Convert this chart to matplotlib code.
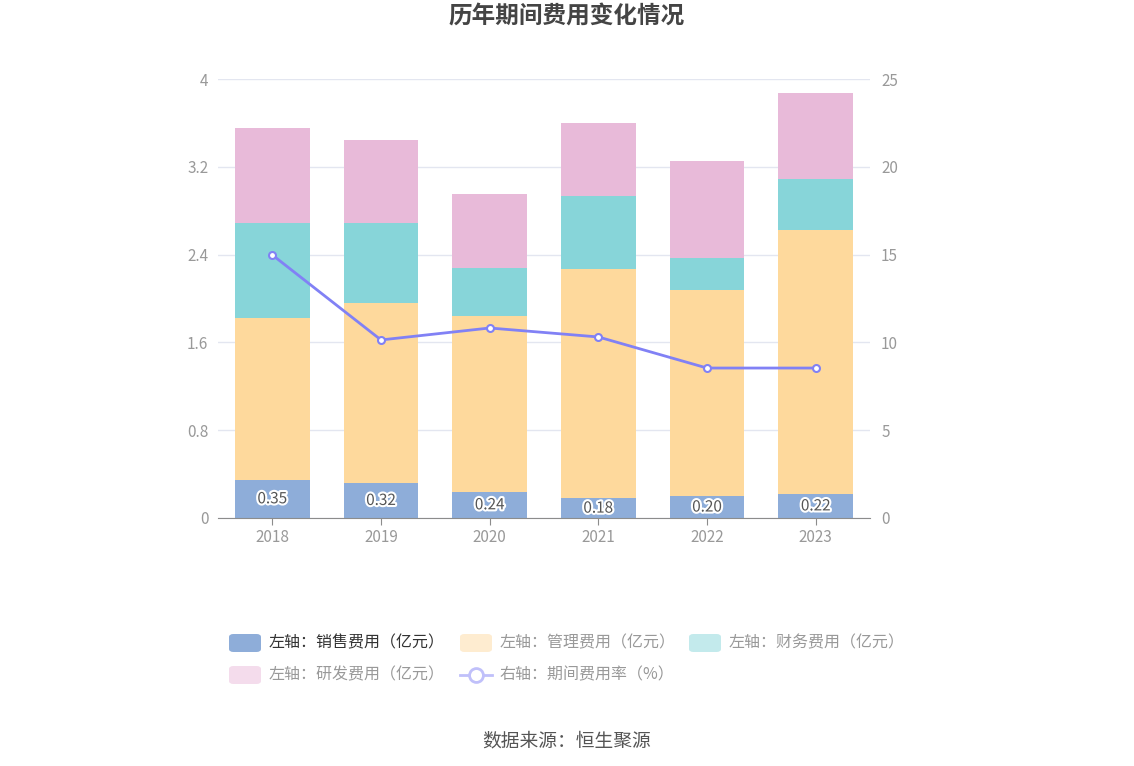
import matplotlib.pyplot as plt
import matplotlib.patheffects as pe
from matplotlib.lines import Line2D
from matplotlib.patches import FancyBboxPatch
import numpy as np

plt.rcParams['font.family'] = ['Noto Sans CJK SC', 'DejaVu Sans']

# 数据
years = ["2018", "2019", "2020", "2021", "2022", "2023"]
xiaoshou = [0.35, 0.32, 0.24, 0.18, 0.20, 0.22]   # 销售费用
guanli = [1.47, 1.64, 1.60, 2.09, 1.88, 2.40]     # 管理费用
caiwu = [0.87, 0.73, 0.44, 0.66, 0.29, 0.47]      # 财务费用
yanfa = [0.86, 0.75, 0.67, 0.67, 0.88, 0.78]      # 研发费用
feilv = [14.98, 10.14, 10.82, 10.31, 8.54, 8.54]  # 期间费用率(%)

c_xs = "#8eadd9"
c_gl = "#fed99c"
c_cw = "#87d5d9"
c_yf = "#e8bad9"
c_line = "#8181f5"

fig = plt.figure(figsize=(11.34, 7.66), dpi=100)
ax = fig.add_axes([218 / 1134, 1 - 518 / 766, 652 / 1134, 439 / 766])
ax2 = ax.twinx()

x = np.arange(len(years))
w = 0.69
b1 = np.array(xiaoshou)
b2 = b1 + np.array(guanli)
b3 = b2 + np.array(caiwu)
ax.bar(x, xiaoshou, w, color=c_xs, zorder=2)
ax.bar(x, guanli, w, bottom=b1, color=c_gl, zorder=2)
ax.bar(x, caiwu, w, bottom=b2, color=c_cw, zorder=2)
ax.bar(x, yanfa, w, bottom=b3, color=c_yf, zorder=2)

for i, v in enumerate(xiaoshou):
    ax.text(x[i], v / 2, f"{v:.2f}", ha="center", va="center", fontsize=11,
            color="#555555", zorder=5,
            path_effects=[pe.withStroke(linewidth=3, foreground="white")])

ax.set_ylim(0, 4)
ax.set_yticks([0, 0.8, 1.6, 2.4, 3.2, 4])
ax.set_yticklabels(["0", "0.8", "1.6", "2.4", "3.2", "4"])
ax.set_xlim(-0.5, len(years) - 0.5)
ax.set_xticks(x)
ax.set_xticklabels(years)
ax.grid(axis="y", color="#e3e6f0", linewidth=1, zorder=0)
ax.set_axisbelow(True)

ax2.plot(x, feilv, color=c_line, linewidth=2, marker="o", markersize=5,
         markerfacecolor="white", markeredgecolor=c_line, markeredgewidth=1.5, zorder=4)
ax2.set_ylim(0, 25)
ax2.set_yticks([0, 5, 10, 15, 20, 25])

for a in (ax, ax2):
    for s in ["top", "left", "right"]:
        a.spines[s].set_visible(False)
    a.tick_params(axis="y", length=0, labelsize=11, labelcolor="#999999")
ax.spines["bottom"].set_color("#8c8c8c")
ax2.spines["bottom"].set_visible(False)
ax.tick_params(axis="x", length=5, color="#8c8c8c", labelsize=11, labelcolor="#999999", pad=3)
ax.tick_params(axis="y", pad=7)
ax2.tick_params(axis="y", pad=8)

fig.text(0.5, 1 - 17 / 766, "历年期间费用变化情况", ha="center", va="center",
         fontsize=17, fontweight="bold", color="#444444")

# 图例
def legend_box(px, py, color, label, active=False):
    fx, fy = px / 1134, 1 - py / 766
    bw, bh = 32 / 1134, 18 / 766
    fig.patches.append(FancyBboxPatch((fx, fy - bh / 2), bw, bh,
                                      boxstyle="round,pad=0,rounding_size=0.004",
                                      transform=fig.transFigure, facecolor=color,
                                      edgecolor="none"))
    fig.text(fx + 40 / 1134, fy, label, ha="left", va="center", fontsize=11.5,
             color="#333333" if active else "#999999")

legend_box(229, 643, c_xs, "左轴：销售费用（亿元）", active=True)
legend_box(460, 643, "#feecd0", "左轴：管理费用（亿元）")
legend_box(689, 643, "#c3eaec", "左轴：财务费用（亿元）")
legend_box(229, 675, "#f4dcec", "左轴：研发费用（亿元）")

lx, ly = 460 / 1134, 1 - 675 / 766
fig.lines.append(Line2D([lx, lx + 32 / 1134], [ly, ly], transform=fig.transFigure,
                        color="#c0c0fa", linewidth=2))
fig.lines.append(Line2D([lx + 16 / 1134], [ly], transform=fig.transFigure,
                        marker="o", markersize=10, markerfacecolor="white",
                        markeredgecolor="#c0c0fa", markeredgewidth=2))
fig.text(lx + 40 / 1134, ly, "右轴：期间费用率（%）", ha="left", va="center",
         fontsize=11.5, color="#999999")

fig.text(0.5, 1 - 741 / 766, "数据来源：恒生聚源", ha="center", va="center",
         fontsize=13.5, color="#555555")

fig.savefig("out.png", dpi=100)
